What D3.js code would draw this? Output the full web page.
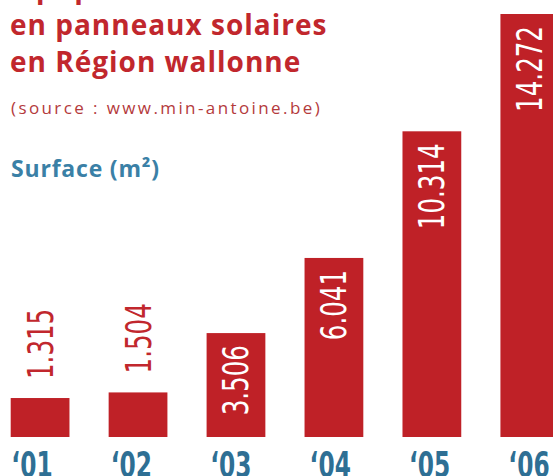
<!DOCTYPE html>
<html lang="fr">
<head>
    <meta charset="UTF-8">
    <title>Surface en panneaux solaires</title>
    <style>
        body { margin: 0; background: #fff; }
        svg { display: block; }
        .title { font-family: "Open Sans", Roboto, sans-serif; font-weight: 700; font-size: 28px; letter-spacing: 1px; fill: #c1272d; }
        .source { font-family: "Open Sans", Roboto, sans-serif; font-weight: 400; font-size: 17px; fill: #b43a3c; letter-spacing: 2.4px; }
        .unit { font-family: "Open Sans", Roboto, sans-serif; font-weight: 700; font-size: 23px; letter-spacing: 0.8px; fill: #3a80a6; }
        .bar { fill: #bf2127; }
        .value { font-family: "DejaVu Sans Condensed", "DejaVu Sans", sans-serif; font-size: 35px; font-weight: 400; }
        .year { font-family: "DejaVu Sans Condensed", "DejaVu Sans", sans-serif; font-size: 36px; font-weight: 700; fill: #2e6f94; text-anchor: middle; }
    </style>
</head>
<body>
    <svg width="553" height="476"></svg>
    <script src="https://d3js.org/d3.v7.min.js"></script>
    <script>
        const width = 553;
        const height = 476;

        const years = ["‘01", "‘02", "‘03", "‘04", "‘05", "‘06"];
        const surfaces = [1315, 1504, 3506, 6041, 10314, 14272];
        const titleLines = ["Équipement", "en panneaux solaires", "en Région wallonne"];

        const svg = d3.select("svg");

        // belgian number format: 1.315
        const fmt = d3.formatLocale({ decimal: ",", thousands: ".", grouping: [3], currency: ["", " €"] }).format(",d");

        const x = d3.scaleBand()
            .domain(years)
            .range([10.7, 559.2])
            .paddingInner(0.4)
            .paddingOuter(0);

        // year labels sit on a slightly different grid than the bars
        const xLabel = d3.scalePoint()
            .domain(years)
            .range([32, 529]);

        const y = d3.scaleLinear()
            .domain([0, d3.max(surfaces)])
            .range([437, 14]);

        const data = years.map((yr, i) => ({ year: yr, value: surfaces[i] }));

        // title
        svg.selectAll(".title")
            .data(titleLines)
            .join("text")
            .attr("class", "title")
            .attr("x", 10)
            .attr("y", (d, i) => -2 + i * 37)
            .text(d => d);

        svg.append("text")
            .attr("class", "source")
            .attr("x", 11)
            .attr("y", 114)
            .text("(source : www.min-antoine.be)");

        svg.append("text")
            .attr("class", "unit")
            .attr("x", 11)
            .attr("y", 177)
            .text("Surface (m²)");

        // bars
        svg.selectAll(".bar")
            .data(data)
            .join("rect")
            .attr("class", "bar")
            .attr("x", d => x(d.year))
            .attr("y", d => y(d.value))
            .attr("width", x.bandwidth())
            .attr("height", d => y(0) - y(d.value));

        // values, rotated; inside the bar when it is tall enough
        // (no narrow font installed, so squeeze along the text direction)
        const capH = 25;
        svg.selectAll(".value")
            .data(data)
            .join("text")
            .attr("class", "value")
            .each(function (d) {
                const inside = y(0) - y(d.value) > 90;
                const cx = x(d.year) + x.bandwidth() / 2 + capH / 2;
                const ty = inside ? y(d.value) + 12 : y(d.value) - 19;
                d3.select(this)
                    .attr("transform", `translate(${cx},${ty}) rotate(-90) scale(0.78,1)`)
                    .attr("text-anchor", inside ? "end" : "start")
                    .attr("fill", inside ? "#fff" : "#c1272d")
                    .text(fmt(d.value));
            });

        // year labels
        svg.selectAll(".year")
            .data(data)
            .join("text")
            .attr("class", "year")
            .attr("transform", d => `translate(${xLabel(d.year)},477) scale(0.72,1)`)
            .text(d => d.year);
    </script>
</body>
</html>
